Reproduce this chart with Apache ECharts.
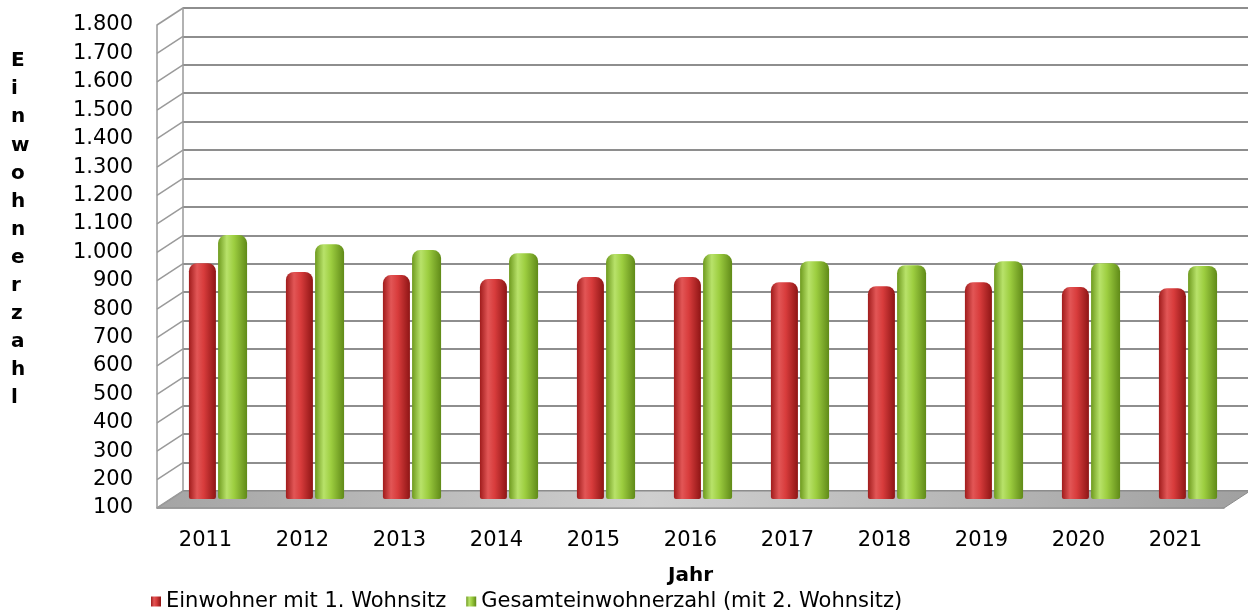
<!DOCTYPE html>
<html>
<head>
<meta charset="utf-8">
<script src="https://cdn.jsdelivr.net/npm/echarts@6/dist/echarts.min.js"></script>
<style>html,body{margin:0;padding:0;background:#fff}#c{width:1248px;height:613px}</style>
</head>
<body>
<div id="c"></div>
<script>
const years = ['2011','2012','2013','2014','2015','2016','2017','2018','2019','2020','2021'];
const erstwohnsitz = [930, 899, 888, 874, 881, 881, 863, 849, 863, 846, 842];
const gesamt = [1029, 997, 976, 965, 962, 962, 937, 923, 937, 930, 920];
const yTicks = [100,200,300,400,500,600,700,800,900,1000,1100,1200,1300,1400,1500,1600,1700,1800];
const seriesNames = ['Einwohner mit 1. Wohnsitz', 'Gesamteinwohnerzahl (mit 2. Wohnsitz)'];
const yTitle = 'Einwohnerzahl';
const xTitle = 'Jahr';

const FONT = 'DejaVu Sans';
const DX = 26, DY = 17;

function fmt(v){ return v >= 1000 ? Math.floor(v/1000) + '.' + String(v%1000).padStart(3,'0') : String(v); }

const chart = echarts.init(document.getElementById('c'), null, {renderer:'canvas'});
const redGrad = new echarts.graphic.LinearGradient(0,0,1,0,[
  {offset:0,color:'#a01c1c'},{offset:0.3,color:'#e25656'},{offset:0.55,color:'#d83c3c'},{offset:1,color:'#8e1515'}]);
const greenGrad = new echarts.graphic.LinearGradient(0,0,1,0,[
  {offset:0,color:'#6e9a1e'},{offset:0.3,color:'#b8e26a'},{offset:0.55,color:'#9dce40'},{offset:1,color:'#608a18'}]);

chart.setOption({
  animation:false,
  textStyle:{fontFamily:FONT},
  grid:[
    {left:157, right:24, top:25, bottom:105},          // front plane
    {left:183, right:0, top:8, bottom:122},            // back wall
    {left:169.5, right:11.5, top:16, bottom:114}       // bars (mid depth)
  ],
  xAxis:[
    {type:'category', gridIndex:0, data:years,
     axisLine:{show:true, lineStyle:{color:'#999', width:1.5}}, axisTick:{show:false},
     axisLabel:{color:'#000', fontSize:21, fontFamily:FONT, margin:22},
     name:xTitle, nameLocation:'middle', nameGap:58,
     nameTextStyle:{color:'#000', fontSize:20, fontWeight:'bold', fontFamily:FONT}},
    {type:'category', gridIndex:1, data:years, show:false},
    {type:'category', gridIndex:2, data:years, show:false}
  ],
  yAxis:[
    {type:'value', gridIndex:0, min:100, max:1800, interval:100,
     axisLine:{show:true, lineStyle:{color:'#999', width:1.5}}, axisTick:{show:false},
     splitLine:{show:false},
     axisLabel:{color:'#000', fontSize:21, fontFamily:FONT, margin:24, formatter:fmt}},
    {type:'value', gridIndex:1, min:100, max:1800, interval:100,
     axisLine:{show:true, lineStyle:{color:'#999', width:1.5}}, axisTick:{show:false},
     axisLabel:{show:false},
     splitLine:{show:true, lineStyle:{color:'#8e8e8e', width:2}}},
    {type:'value', gridIndex:2, min:100, max:1800, interval:100, show:false, splitLine:{show:false}}
  ],
  legend:{
    left:146, top:586, itemWidth:10, itemHeight:10, itemGap:20,
    textStyle:{color:'#000', fontSize:21, fontFamily:FONT},
    data:[{name:seriesNames[0], icon:'rect'},{name:seriesNames[1], icon:'rect'}]
  },
  graphic:[{
    type:'text', left:11, top:47,
    style:{text:yTitle.split('').join('\n'), font:'bold 20px "' + FONT + '"', fill:'#000',
           lineHeight:28.1, align:'center'}
  }],
  series:[
    {type:'custom', xAxisIndex:0, yAxisIndex:0, z:1, clip:false, silent:true,
     data:[[0,100]],
     renderItem:function(params, api){
       const cs = params.coordSys;
       const yb = cs.y + cs.height, xl = cs.x, xr = cs.x + cs.width;
       return {type:'polygon', shape:{points:[[xl,yb],[xr,yb],[xr+DX,yb-DY],[xl+DX,yb-DY]]},
         style:{fill:new echarts.graphic.LinearGradient(0,0,1,0,[
           {offset:0,color:'#a4a4a4'},{offset:0.45,color:'#cfcfcf'},{offset:1,color:'#a0a0a0'}]),
           stroke:'#8a8a8a', lineWidth:1}};
     }},
    {type:'custom', xAxisIndex:0, yAxisIndex:0, z:2, clip:false, silent:true,
     data:yTicks.map(v=>[0,v]),
     renderItem:function(params, api){
       const cs = params.coordSys;
       const y = api.coord([0, api.value(1)])[1];
       return {type:'line', shape:{x1:cs.x, y1:y, x2:cs.x+DX, y2:y-DY},
         style:{stroke:'#9a9a9a', lineWidth:1.5}};
     }},
    {name:seriesNames[0], type:'bar', xAxisIndex:2, yAxisIndex:2, z:5,
     data:erstwohnsitz, barWidth:27, barGap:'8%',
     itemStyle:{color:redGrad, borderRadius:[8,8,2,2]}},
    {name:seriesNames[1], type:'bar', xAxisIndex:2, yAxisIndex:2, z:5,
     data:gesamt, barWidth:29, barGap:'8%',
     itemStyle:{color:greenGrad, borderRadius:[8,8,2,2]}}
  ]
});
</script>
</body>
</html>
